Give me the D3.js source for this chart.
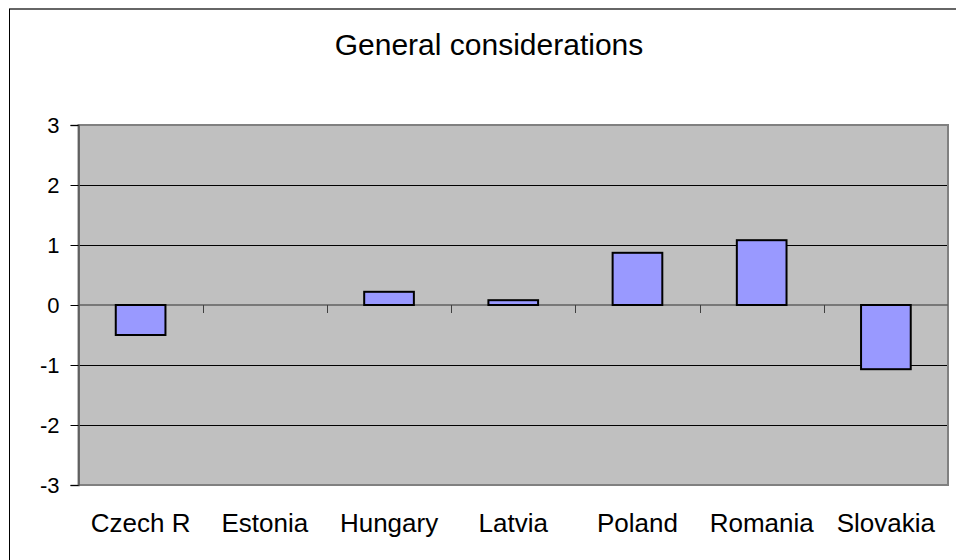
<!DOCTYPE html>
<html>
<head>
<meta charset="utf-8">
<script src="https://cdn.jsdelivr.net/npm/d3@7"></script>
<style>
  html, body { margin: 0; padding: 0; background: #fff; }
  svg { display: block; font-family: "Liberation Sans", Arial, sans-serif; }
</style>
</head>
<body>
<svg id="chart" width="956" height="560"></svg>
<script>
// Survey scores by country
const countries = ["Czech R", "Estonia", "Hungary", "Latvia", "Poland", "Romania", "Slovakia"];
const scores = [-0.5, 0, 0.22, 0.08, 0.87, 1.08, -1.07];
const yTicks = [-3, -2, -1, 0, 1, 2, 3];
const chartTitle = "General considerations";

const svg = d3.select("#chart");
const plot = { left: 78.5, right: 948, top: 125, bottom: 485 };

// Outer chart frame (right and bottom edges run past the page)
svg.append("line").attr("x1", 9).attr("x2", 956).attr("y1", 9).attr("y2", 9)
  .attr("stroke", "#333").attr("stroke-width", 1.6);
svg.append("line").attr("x1", 9.5).attr("x2", 9.5).attr("y1", 9).attr("y2", 560)
  .attr("stroke", "#000").attr("stroke-width", 1);

// Title
svg.append("text").attr("x", 489).attr("y", 55).attr("text-anchor", "middle")
  .attr("font-size", 30).attr("fill", "#000").text(chartTitle);

const x = d3.scaleBand().domain(countries).range([plot.left, plot.right]).padding(0);
const y = d3.scaleLinear().domain([-3, 3]).range([plot.bottom, plot.top]);

// Plot background
svg.append("rect").attr("x", plot.left).attr("y", plot.top)
  .attr("width", plot.right - plot.left).attr("height", plot.bottom - plot.top)
  .attr("fill", "#c0c0c0");

// Horizontal gridlines
svg.append("g").selectAll("line").data(yTicks.filter(t => t !== 0 && t !== 3 && t !== -3))
  .join("line")
  .attr("x1", plot.left).attr("x2", plot.right)
  .attr("y1", d => Math.round(y(d)) + 0.5).attr("y2", d => Math.round(y(d)) + 0.5)
  .attr("stroke", "#000").attr("stroke-width", 1);

// Plot border
svg.append("rect").attr("x", plot.left).attr("y", plot.top)
  .attr("width", plot.right - plot.left).attr("height", plot.bottom - plot.top)
  .attr("fill", "none").attr("stroke", "#808080").attr("stroke-width", 2);

// Zero line with category ticks
const zeroY = y(0);
svg.append("line").attr("x1", plot.left).attr("x2", plot.right)
  .attr("y1", zeroY).attr("y2", zeroY)
  .attr("stroke", "#606060").attr("stroke-width", 1.5);
svg.append("g").selectAll("line").data(countries.slice(1))
  .join("line")
  .attr("x1", d => Math.round(x(d)) + 0.5).attr("x2", d => Math.round(x(d)) + 0.5)
  .attr("y1", zeroY).attr("y2", zeroY + 8)
  .attr("stroke", "#404040").attr("stroke-width", 1);

// Bars (Excel-style gap width of 150%)
const barW = x.bandwidth() / 2.5;
svg.append("g").selectAll("rect").data(countries.map((c, i) => ({ c, v: scores[i] })).filter(d => d.v !== 0))
  .join("rect")
  .attr("x", d => x(d.c) + (x.bandwidth() - barW) / 2)
  .attr("y", d => y(Math.max(0, d.v)))
  .attr("width", barW)
  .attr("height", d => Math.abs(y(d.v) - y(0)))
  .attr("fill", "#9999ff").attr("stroke", "#000").attr("stroke-width", 2);

// Y axis
const yAxis = d3.axisLeft(y).tickValues(yTicks).tickSize(8).tickPadding(11).tickFormat(d => String(d));
const ya = svg.append("g").attr("transform", `translate(${plot.left},0)`).call(yAxis);
ya.select(".domain").attr("stroke", "#555").attr("stroke-width", 1.5);
ya.selectAll(".tick line").attr("stroke", "#000");
ya.selectAll(".tick text").attr("font-size", 22).attr("fill", "#000")
  .attr("font-family", "Liberation Sans, Arial, sans-serif");

// Category labels
svg.append("g").selectAll("text").data(countries)
  .join("text")
  .attr("x", d => x(d) + x.bandwidth() / 2)
  .attr("y", 532)
  .attr("text-anchor", "middle")
  .attr("font-size", 26)
  .attr("fill", "#000")
  .text(d => d);
</script>
</body>
</html>
